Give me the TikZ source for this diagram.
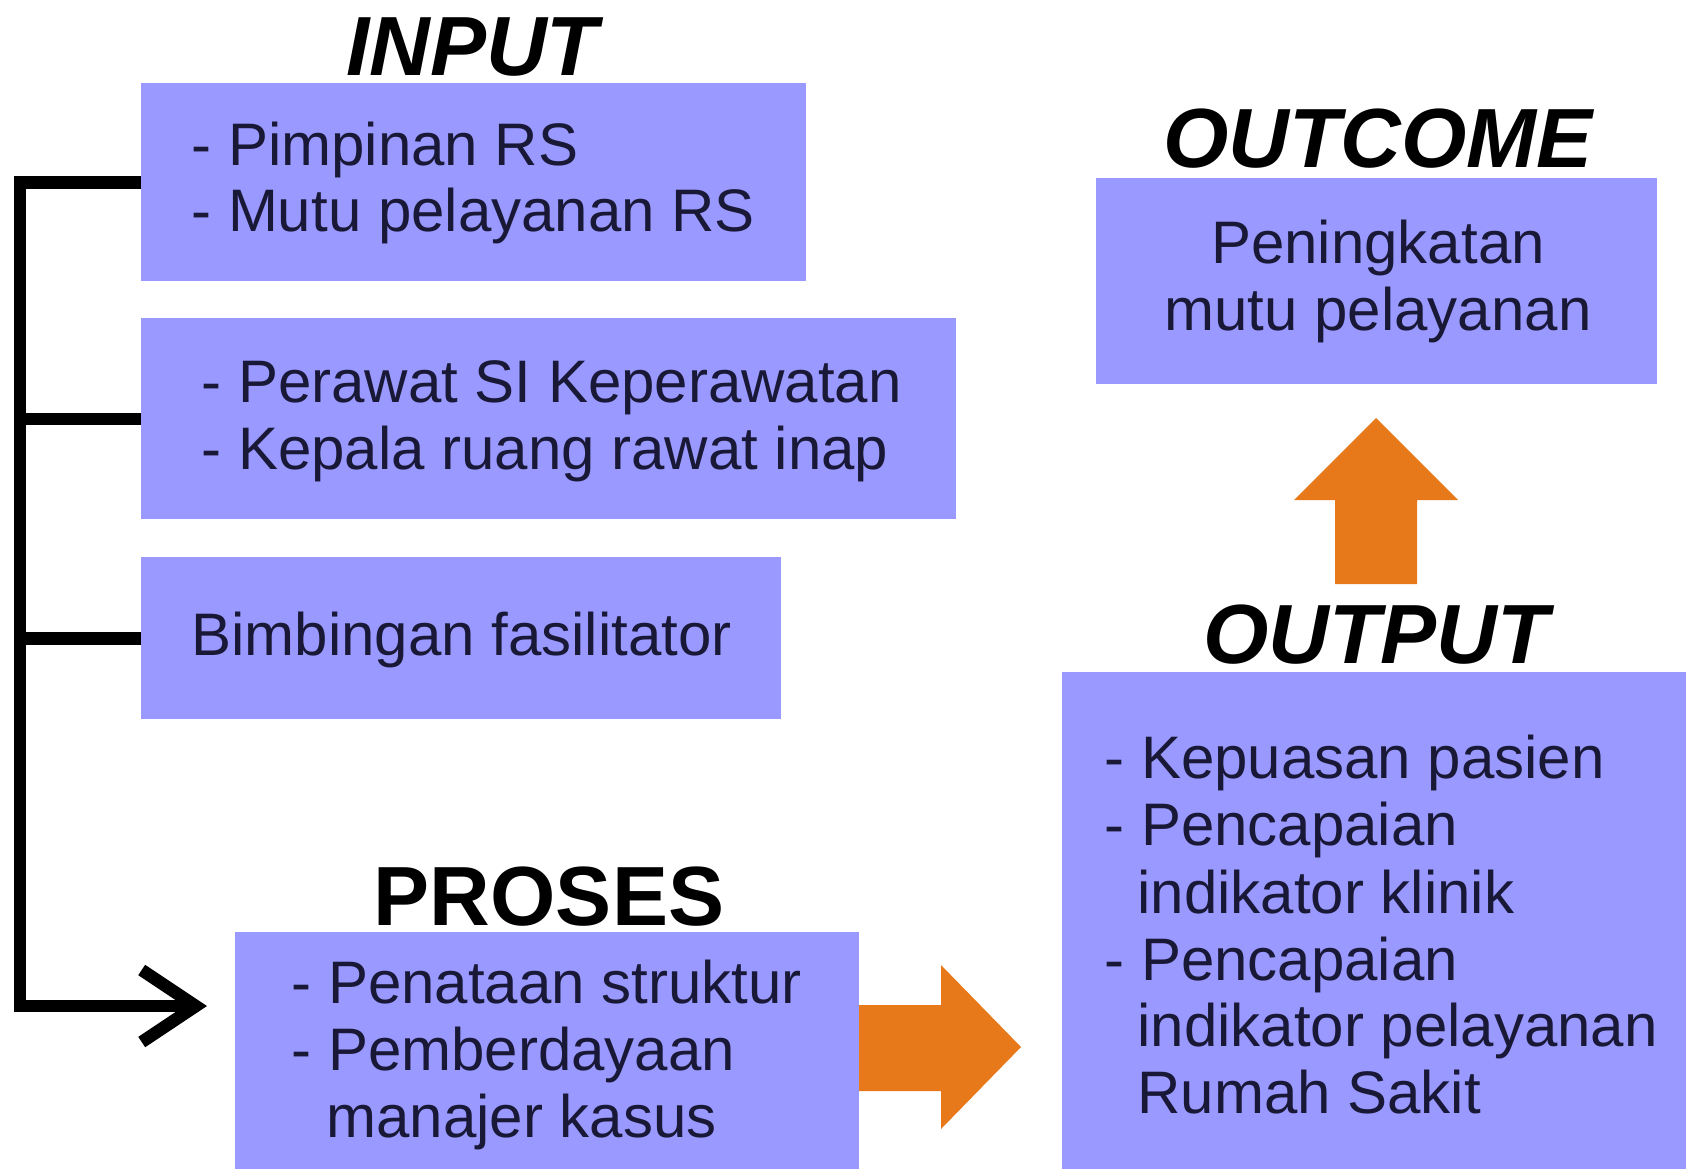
\documentclass[tikz,border=0pt]{standalone}
\usepackage{fontspec}
\setmainfont{Liberation Sans}
\usetikzlibrary{arrows.meta}
\definecolor{boxfill}{RGB}{153,153,255}
\definecolor{txt}{RGB}{25,25,55}
\definecolor{arrorange}{RGB}{232,121,26}
\begin{document}
\begin{tikzpicture}[x=0.5pt,y=-0.5pt,
  box/.style={fill=boxfill, draw=none, inner sep=0pt, anchor=north west},
  body/.style={font=\fontsize{30}{34}\selectfont, text=txt, inner sep=0pt, anchor=base west},
  bodyc/.style={body, anchor=base},
  title/.style={font=\fontsize{42}{46}\selectfont\bfseries\itshape, inner sep=0pt, anchor=base},
  titleup/.style={font=\fontsize{42}{46}\selectfont\bfseries, inner sep=0pt, anchor=base},
  conn/.style={line width=6.25pt, line join=miter},
  blockarrow/.style={fill=arrorange, draw=none},
]
\useasboundingbox (0,0) rectangle (1686,1169);

% titles
\node[title] (tin) at (472,75) {INPUT};
\node[title] (tout) at (1378,167) {OUTCOME};
\node[title] (toutp) at (1376,663) {OUTPUT};
\node[titleup] (tpro) at (549,925) {PROSES};

% boxes
\node[box, minimum width=332.5pt, minimum height=99pt] (b1) at (141,83) {};
\node[box, minimum width=407.5pt, minimum height=100.5pt] (b2) at (141,318) {};
\node[box, minimum width=320pt, minimum height=81pt] (b3) at (141,557) {};
\node[box, minimum width=312pt, minimum height=118.5pt] (b4) at (235,932) {};
\node[box, minimum width=280.5pt, minimum height=103pt] (bo) at (1096,178) {};
\node[box, minimum width=312pt, minimum height=248.5pt] (bp) at (1062,672) {};

% texts
\node[body] (t11) at (191,165) {- Pimpinan RS};
\node[body] (t12) at (191,231) {- Mutu pelayanan RS};
\node[body] (t21) at (201,402) {- Perawat SI Keperawatan};
\node[body] (t22) at (201,469) {- Kepala ruang rawat inap};
\node[body] (t31) at (191,655) {Bimbingan fasilitator};
\node[body] (t41) at (291,1003) {- Penataan struktur};
\node[body] (t42) at (291,1070) {- Pemberdayaan};
\node[body] (t43) at (326,1137) {manajer kasus};
\node[bodyc] (to1) at (1378,263) {Peningkatan};
\node[bodyc] (to2) at (1378,330) {mutu pelayanan};
\node[body] (tp1) at (1104,778) {- Kepuasan pasien};
\node[body] (tp2) at (1104,845) {- Pencapaian};
\node[body] (tp3) at (1137,913) {indikator klinik};
\node[body] (tp4) at (1104,980) {- Pencapaian};
\node[body] (tp5) at (1137,1046) {indikator pelayanan};
\node[body] (tp6) at (1137,1113) {Rumah Sakit};

% black connector
\coordinate (spine) at (20,0);
\coordinate (tipin) at (207,1006);
\draw[conn, -{Straight Barb[length=27pt,width=36pt]}] (b1.west) -- (b1.west -| spine) -- (spine |- tipin) -- (tipin);
\draw[conn] (b2.west) -- (b2.west -| spine);
\draw[conn] (b3.west) -- (b3.west -| spine);

% orange block arrows
\fill[blockarrow] (859,1005) -- (941,1005) -- (941,965) -- (1021,1047) -- (941,1129) -- (941,1091) -- (859,1091) -- cycle;
\fill[blockarrow] (1335,584) -- (1335,500) -- (1294,500) -- (1376,418) -- (1458,500) -- (1417,500) -- (1417,584) -- cycle;
\end{tikzpicture}
\end{document}
